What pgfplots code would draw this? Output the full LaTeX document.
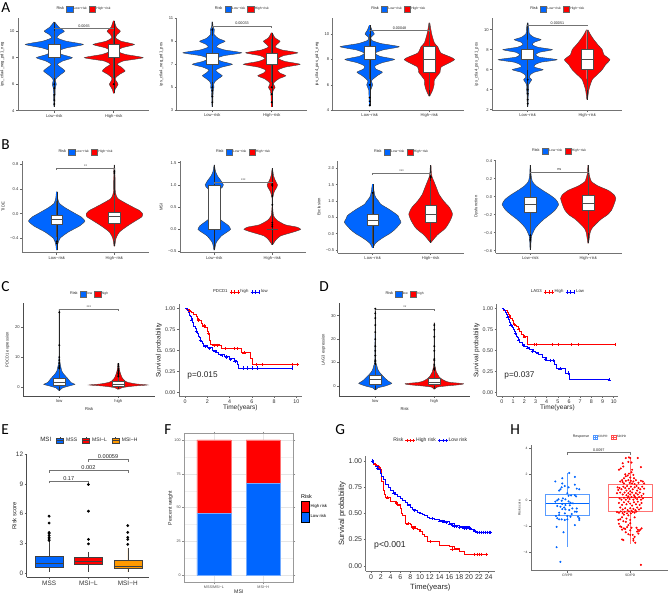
\documentclass[border=0pt]{standalone}
\usepackage{fontspec}
\setmainfont{Liberation Sans}
\newfontfamily\letterfont{Carlito}
\usepackage{pgfplots}
\usepackage{pgfplotstable}
\pgfplotsset{compat=1.18}
\usepgfplotslibrary{statistics}

\definecolor{cb}{HTML}{0066FF}
\definecolor{cr}{HTML}{FF0000}
\definecolor{co}{HTML}{FF9900}
\newcommand{\fs}[1]{\fontsize{#1}{#1}\selectfont}

% violin half widths: y, w (w in 1/178 of a category step)
% panel A
\pgfplotstableread[row sep=\\]{y w\\ 4.3 1\\ 5 2\\ 5.7 3\\ 6 6\\ 6.3 3\\ 6.5 8\\ 6.75 20\\ 7 32\\ 7.3 18\\ 7.5 9\\ 7.75 25\\ 8 54\\ 8.25 22\\ 8.5 10\\ 8.75 38\\ 9 87\\ 9.25 35\\ 9.5 8\\ 9.75 15\\ 10 30\\ 10.3 14\\ 10.7 1\\}\vAaL
\pgfplotstableread[row sep=\\]{y w\\ 5.3 1\\ 5.6 4\\ 6 13\\ 6.3 6\\ 6.5 6\\ 6.75 18\\ 7 34\\ 7.3 22\\ 7.5 10\\ 7.75 28\\ 8 88\\ 8.25 35\\ 8.5 10\\ 8.75 25\\ 9 62\\ 9.25 22\\ 9.5 6\\ 9.75 10\\ 10 20\\ 10.3 8\\ 10.8 1\\}\vAaH
\pgfplotstableread[row sep=\\]{y w\\ 3.3 1\\ 4.3 2\\ 4.8 3\\ 5 5\\ 5.25 4\\ 5.5 8\\ 5.75 18\\ 6 30\\ 6.25 18\\ 6.5 10\\ 6.75 28\\ 7 60\\ 7.25 28\\ 7.5 12\\ 7.75 35\\ 8 88\\ 8.25 36\\ 8.5 12\\ 8.75 20\\ 9 38\\ 9.25 18\\ 9.6 5\\ 10 6\\ 10.3 2\\ 10.7 1\\}\vAbL
\pgfplotstableread[row sep=\\]{y w\\ 3.3 1\\ 4.2 2\\ 4.7 4\\ 5 10\\ 5.3 5\\ 5.5 10\\ 5.75 22\\ 6 42\\ 6.25 24\\ 6.5 18\\ 6.75 40\\ 7 85\\ 7.25 40\\ 7.5 20\\ 7.75 35\\ 8 78\\ 8.25 30\\ 8.5 10\\ 8.75 16\\ 9 25\\ 9.3 10\\ 9.75 1\\}\vAbH
\pgfplotstableread[row sep=\\]{y w\\ 4.3 1\\ 5 2\\ 5.6 3\\ 6 9\\ 6.3 5\\ 6.5 12\\ 6.75 24\\ 7 38\\ 7.25 18\\ 7.5 16\\ 7.75 38\\ 8 74\\ 8.25 30\\ 8.5 16\\ 8.75 40\\ 9 88\\ 9.25 34\\ 9.5 6\\ 9.75 4\\ 10 14\\ 10.3 7\\ 10.7 1\\}\vAcL
\pgfplotstableread[row sep=\\]{y w\\ 5.1 1\\ 5.6 10\\ 6 14\\ 6.4 15\\ 7 32\\ 7.4 35\\ 8 75\\ 8.5 35\\ 9 25\\ 9.3 15\\ 10 7\\ 10.9 1\\}\vAcH
\pgfplotstableread[row sep=\\]{y w\\ 2.3 1\\ 3.5 2\\ 4 3\\ 4.5 3\\ 5 12\\ 5.25 5\\ 5.5 8\\ 5.75 20\\ 6 46\\ 6.25 20\\ 6.5 22\\ 6.75 40\\ 7 88\\ 7.25 35\\ 7.5 24\\ 7.75 36\\ 8 74\\ 8.25 30\\ 8.5 14\\ 8.75 20\\ 9 40\\ 9.25 18\\ 9.6 5\\ 10 4\\ 10.7 1\\}\vAdL
\pgfplotstableread[row sep=\\]{y w\\ 3 1\\ 4 5\\ 5 15\\ 5.5 30\\ 6 45\\ 6.5 55\\ 7 68\\ 7.5 50\\ 8 45\\ 8.5 32\\ 9 20\\ 9.5 10\\ 10 2\\}\vAdH
% panel B
\pgfplotstableread[row sep=\\]{y w\\ -.59 1\\ -.5 3\\ -.4 10\\ -.3 35\\ -.2 70\\ -.12 87\\ -.05 75\\ 0 58\\ .1 25\\ .17 8\\ .25 3\\ .36 1\\}\vBaL
\pgfplotstableread[row sep=\\]{y w\\ -.53 1\\ -.4 5\\ -.3 15\\ -.2 40\\ -.1 70\\ -.05 85\\ 0 87\\ .05 78\\ .1 60\\ .17 35\\ .25 10\\ .35 3\\ .6 2\\ .79 1\\}\vBaH
\pgfplotstableread[row sep=\\]{y w\\ -.47 1\\ -.3 6\\ -.15 22\\ -.05 42\\ 0 50\\ .08 44\\ .2 22\\ .3 7\\ .45 2\\ .62 .5\\ .75 3\\ .85 10\\ .95 25\\ 1 28\\ 1.1 20\\ 1.2 10\\ 1.3 4\\ 1.45 .5\\}\vBbL
\pgfplotstableread[row sep=\\]{y w\\ -.35 1\\ -.25 10\\ -.15 25\\ -.05 70\\ 0 87\\ .05 75\\ .1 40\\ .2 15\\ .3 4\\ .5 1\\ .7 1\\ .85 6\\ .95 14\\ 1 16\\ 1.1 9\\ 1.2 4\\ 1.37 .5\\}\vBbH
\pgfplotstableread[row sep=\\]{y w\\ -.43 1\\ -.3 8\\ -.2 20\\ -.1 35\\ 0 52\\ .1 65\\ .2 75\\ .35 87\\ .45 82\\ .55 78\\ .6 72\\ .75 50\\ .9 25\\ 1 18\\ 1.1 10\\ 1.2 6\\ 1.51 1\\}\vBcL
\pgfplotstableread[row sep=\\]{y w\\ -.27 1\\ -.1 15\\ 0 25\\ .1 38\\ .2 48\\ .4 60\\ .6 67\\ .8 58\\ 1 40\\ 1.2 26\\ 1.4 18\\ 1.6 10\\ 1.75 4\\ 1.9 2\\ 2.1 1\\}\vBcH
\pgfplotstableread[row sep=\\]{y w\\ -.59 1\\ -.45 3\\ -.4 8\\ -.35 15\\ -.3 27\\ -.25 42\\ -.2 60\\ -.15 76\\ -.085 87\\ -.03 78\\ .02 60\\ .07 38\\ .12 18\\ .17 6\\ .25 2\\ .35 1\\}\vBdL
\pgfplotstableread[row sep=\\]{y w\\ -.52 1\\ -.4 6\\ -.35 12\\ -.3 25\\ -.25 40\\ -.2 60\\ -.15 72\\ -.1 78\\ -.05 83\\ -.02 85\\ .02 80\\ .07 62\\ .12 30\\ .17 10\\ .25 3\\ .35 1\\}\vBdH
% panels C, D
\pgfplotstableread[row sep=\\]{y w\\ -1.2 1\\ -.3 10\\ .5 35\\ .9 47\\ 1.5 35\\ 2.5 28\\ 3.5 20\\ 4.5 12\\ 5.5 7\\ 6.5 5\\ 7.5 3\\ 10 1\\ 26 .5\\}\vCaL
\pgfplotstableread[row sep=\\]{y w\\ -.8 1\\ -.2 12\\ .3 45\\ .67 88\\ 1 55\\ 1.5 30\\ 2 20\\ 3 12\\ 4 8\\ 5 5\\ 6 3\\ 7.9 1\\}\vCaH
\pgfplotstableread[row sep=\\]{y w\\ -1.7 1\\ -.8 8\\ 0 30\\ 1.1 50\\ 2 40\\ 3 32\\ 4 25\\ 5 18\\ 6 12\\ 7 8\\ 9 4\\ 11 1.5\\ 33 .5\\}\vDaL
\pgfplotstableread[row sep=\\]{y w\\ -1.4 1\\ -.5 8\\ 0 35\\ .6 80\\ 1 88\\ 1.5 50\\ 2 35\\ 3 22\\ 4 14\\ 5 10\\ 6 6\\ 8 3\\ 10 1\\ 27 .5\\}\vDaH

\pgfplotsset{
  panel/.code args={#1/#2/#3/#4}{%
    \pgfmathsetlengthmacro\pw{(#2-#1)*0.75pt}%
    \pgfmathsetlengthmacro\ph{(#4-#3)*0.75pt}%
    \pgfmathsetlengthmacro\px{#1*0.75pt}%
    \pgfmathsetlengthmacro\py{(595-#4)*0.75pt}%
    \pgfplotsset{width=\pw,height=\ph,at={(\px,\py)}}},
  base/.style={scale only axis,anchor=south west,clip=false,
    axis x line*=bottom,axis y line*=left,
    axis line style={-,black!55,line width=.6pt},
    tick style={black!60,line width=.35pt},
    tick align=outside,major tick length=1.5pt,
    /pgf/number format/assume math mode=true,
    tick label style={text=black!80,inner sep=1pt},
    label style={text=black!85,inner sep=1pt},
    boxplot/draw direction=y,
    boxplot/whisker extend=0,
    boxplot/every median/.style={line width=.7pt},
    legend style={draw=none,fill=none,legend columns=-1,at={(.5,1)},anchor=center,
      inner sep=0pt,outer sep=0pt,
      nodes={inner sep=.6pt,text=black!85},
      /tikz/every even column/.append style={column sep=1pt}}},
  keybox/.style 2 args={legend image code/.code={\draw[##1] (0pt,-#2) rectangle (#1,#2);}},
  boxkey/.style={legend image code/.code={\draw[##1,fill=none] (2.5pt,-2.8pt)--(2.5pt,2.8pt);
    \draw[##1] (0pt,-2pt) rectangle (5pt,2pt);\draw[##1,fill=none] (0pt,0pt)--(5pt,0pt);}},
  kmkey/.style={legend image code/.code={\draw[##1] plot[mark=+,mark size=1.2pt] coordinates {(0pt,0pt)(2.5pt,0pt)(5pt,0pt)};}},
  vaxis/.style={base,xtick={1,2},keybox={4.8pt}{2.3pt},
    tick label style={font=\fs{3.1}},label style={font=\fs{3.1}},ylabel shift=2pt,
    legend style={yshift=6.8pt,font=\fs{2.5}}},
  kmaxis/.style={base,
    tick label style={font=\fs{4}},label style={font=\fs{4.9}},
    ylabel shift=0pt,xlabel shift=-1pt,kmkey,
    ymin=-.044,ymax=1.048,ytick={0,.25,.5,.75,1},yticklabels={0.00,0.25,0.50,0.75,1.00},
    legend style={yshift=9.2pt,font=\fs{3.2}}},
  vio/.style={draw=black!75,line width=.3pt,smooth,tension=.35,forget plot},
  whit/.style={fill=white,draw=black!70,line width=.35pt,forget plot},
  out/.style={only marks,mark=*,mark size=.5pt,black,forget plot},
  brk/.style={black!55,line width=.35pt,forget plot},
  cens/.style={only marks,mark=+,mark size=1.2pt,line width=.25pt,forget plot},
  km/.style={const plot,line width=.65pt,forget plot},
}

\newcommand{\violin}[3]{%
  \addplot[vio,fill=#2] table[x expr=#1+\thisrow{w}/178,y=y]{#3};
  \addplot[vio,fill=#2] table[x expr=#1-\thisrow{w}/178,y=y]{#3};
  \addplot[#2,line width=.9pt,forget plot] table[x expr=#1,y=y]{#3};
  \addplot[black!85,line width=.25pt,forget plot] table[x expr=#1,y=y]{#3};}
% pos, lower whisker, q1, median, q3, upper whisker
\newcommand{\boxp}[6]{%
  \addplot[whit,boxplot prepared={draw position=#1,lower whisker=#2,lower quartile=#3,median=#4,upper quartile=#5,upper whisker=#6,box extend=.2}] coordinates {};}
\newcommand{\sig}[5]{%
  \addplot[brk] coordinates {(#1,#3-#4) (#1,#3) (#2,#3) (#2,#3-#4)};
  \pgfmathsetmacro\midx{(#1+#2)/2}
  \node[anchor=south,inner sep=.6pt,font=\fs{2.8},text=black!85] at (axis cs:\midx,#3) {#5};}
\newcommand{\rleg}[2]{%
  \addlegendimage{empty legend}\addlegendentry{\fs{2.9}Risk}
  \addlegendimage{fill=cb,draw=black!60,line width=.2pt}\addlegendentry{#1}
  \addlegendimage{fill=cr,draw=black!60,line width=.2pt}\addlegendentry{#2}}
\newcommand{\kmleg}[3]{%
  \addlegendimage{empty legend}\addlegendentry{#1}
  \addlegendimage{cr,line width=.45pt}\addlegendentry{#2}
  \addlegendimage{blue,line width=.45pt}\addlegendentry{#3}}
\newcommand{\plabel}[3]{\node[anchor=west,inner sep=0pt,font=\letterfont\fs{11.5}] at ({#1*.75pt},{(595-#2)*.75pt}) {#3};}

\begin{document}
\begin{tikzpicture}
\path[use as bounding box,fill=white] (0,0) rectangle (501.75pt,446.25pt);

\plabel{1}{8}{A}\plabel{1}{145}{B}\plabel{1}{287}{C}\plabel{319}{287}{D}
\plabel{1}{430}{E}\plabel{164}{430}{F}\plabel{335}{430}{G}\plabel{510}{430}{H}

% ---- row A
\begin{axis}[vaxis,panel=18/149/18/110.7,xmin=.389,xmax=2.594,ymin=4,ymax=11,
  xticklabels={Low−risk,High−risk},ytick={4,6,8,10},ylabel={ips\_ctla4\_neg\_pd1\_neg}]
\rleg{Low−risk}{High−risk}
\violin{1}{cb}{\vAaL}\violin{2}{cr}{\vAaH}
\boxp{1}{6.5}{8}{8}{9}{10}\boxp{2}{6.5}{8}{8}{9}{10}
\addplot[out] coordinates {(1,6) (1,5.7) (1,5.2) (1,4.8) (1,4.5) (2,6)};
\sig{1}{2}{10.22}{.08}{0.0065}
\end{axis}
\begin{axis}[vaxis,panel=176.7/307/18.3/110.3,xmin=.4,xmax=2.594,ymin=3,ymax=11,
  xticklabels={Low−risk,High−risk},ytick={3,5,7,9,11},ylabel={ips\_ctla4\_neg\_pd1\_pos}]
\rleg{Low−risk}{High−risk}
\violin{1}{cb}{\vAbL}\violin{2}{cr}{\vAbH}
\boxp{1}{5.5}{7}{7}{8}{9.5}\boxp{2}{5.5}{7}{7}{8}{9.2}
\addplot[out] coordinates {(1,10) (1,5) (1,4.7) (1,4.2) (1,3.7) (2,5) (2,4.4) (2,3.7)};
\sig{1}{2}{10.33}{.15}{0.00033}
\end{axis}
\begin{axis}[vaxis,panel=332.7/464/18/110.3,xmin=.38,xmax=2.58,ymin=4,ymax=11.26,
  xticklabels={Low−risk,High−risk},ytick={4,6,8,10},ylabel={ips\_ctla4\_pos\_pd1\_neg}]
\rleg{Low−risk}{High−risk}
\violin{1}{cb}{\vAcL}\violin{2}{cr}{\vAcH}
\boxp{1}{6.5}{8}{8}{9}{10}\boxp{2}{5.6}{7}{8}{9}{10.9}
\addplot[out] coordinates {(1,6) (1,5) (1,4.7) (1,4.4)};
\sig{1}{2}{10.28}{.1}{0.00048}
\end{axis}
\begin{axis}[vaxis,panel=492.3/622.3/18.3/110.3,xmin=.406,xmax=2.59,ymin=1.94,ymax=11.14,
  xticklabels={Low−risk,High−risk},ytick={2,4,6,8,10},ylabel={ips\_ctla4\_pos\_pd1\_pos}]
\rleg{Low−risk}{High−risk}
\violin{1}{cb}{\vAdL}\violin{2}{cr}{\vAdH}
\boxp{1}{6}{7}{7}{8}{9}\boxp{2}{4}{6}{7}{8}{10}
\addplot[out] coordinates {(1,5) (1,4) (1,3.6) (1,3) (1,2.6)};
\sig{1}{2}{10.43}{.1}{0.00051}
\end{axis}

% ---- row B
\begin{axis}[vaxis,panel=22/149/161/252.7,xmin=.398,xmax=2.6,ymin=-.632,ymax=.855,
  xticklabels={Low−risk,High−risk},ytick={-.4,0,.4,.8},yticklabels={−0.4,0.0,0.4,0.8},ylabel={TIDE}]
\rleg{Low−risk}{High−risk}
\violin{1}{cb}{\vBaL}\violin{2}{cr}{\vBaH}
\boxp{1}{-.37}{-.17}{-.1}{-.02}{.2}\boxp{2}{-.45}{-.15}{-.04}{.03}{.3}
\addplot[out] coordinates {(1,-.45) (1,-.48) (2,.66) (2,.69)};
\sig{1}{2}{.73}{.02}{**}
\end{axis}
\begin{axis}[vaxis,panel=180/306/161/252.7,xmin=.41,xmax=2.58,ymin=-.527,ymax=1.538,
  xticklabels={Low−risk,High−risk},ytick={-.5,0,.5,1,1.5},yticklabels={−0.5,0.0,0.5,1.0,1.5},ylabel={MSI}]
\rleg{Low−risk}{High−risk}
\violin{1}{cb}{\vBbL}\violin{2}{cr}{\vBbH}
\boxp{1}{0}{0}{0}{1}{1}\boxp{2}{0}{0}{0}{0}{.01}
\addplot[out] coordinates {(2,.06) (2,.1) (2,.15) (2,.55) (2,.75) (2,1) (2,.98) (2,1.02)};
\sig{1}{2}{1.06}{.03}{***}
\end{axis}
\begin{axis}[vaxis,panel=337.7/464.3/161/253,xmin=.397,xmax=2.58,ymin=-.59,ymax=2.225,
  xticklabels={Low−risk,High−risk},ytick={-.5,0,.5,1,1.5,2},yticklabels={−0.5,0.0,0.5,1.0,1.5,2.0},ylabel={Exclusion}]
\rleg{Low−risk}{High−risk}
\violin{1}{cb}{\vBcL}\violin{2}{cr}{\vBcH}
\boxp{1}{-.3}{.25}{.41}{.6}{1.2}\boxp{2}{-.2}{.35}{.6}{.86}{1.6}
\addplot[out] coordinates {(1,1.25) (2,1.75) (2,1.72)};
\sig{1}{2}{1.85}{.05}{***}
\end{axis}
\begin{axis}[vaxis,panel=495.7/622.3/160/253,xmin=.4,xmax=2.59,ymin=-.626,ymax=.408,
  xticklabels={Low−risk,High−risk},ytick={-.6,-.4,-.2,0,.2,.4},yticklabels={−0.6,−0.4,−0.2,0.0,0.2,0.4},ylabel={Dysfunction}]
\rleg{Low−risk}{High−risk}
\violin{1}{cb}{\vBdL}\violin{2}{cr}{\vBdH}
\boxp{1}{-.41}{-.17}{-.09}{-.01}{.2}\boxp{2}{-.4}{-.15}{-.07}{.015}{.25}
\addplot[out] coordinates {(1,-.43) (1,-.46) (1,-.48)};
\sig{1}{2}{.274}{.01}{ns}
\end{axis}

% ---- row C, D violins
\begin{axis}[vaxis,panel=23.3/155/303.3/396,xmin=.39,xmax=2.62,ymin=-3.02,ymax=28.04,
  axis line style={black!70},
  xticklabels={low,high},ytick={0,10,20},ylabel={PDCD1 expression},xlabel={Risk},xlabel shift=1pt]
\rleg{low}{high}
\violin{1}{cb}{\vCaL}\violin{2}{cr}{\vCaH}
\boxp{1}{0}{.45}{1.45}{2.9}{6}\boxp{2}{0}{.35}{1}{1.8}{3.4}
\addplot[out] coordinates {(1,6.5) (1,7) (1,8) (1,9) (1,10) (1,14) (1,25) (1,6.2) (2,3.5) (2,4) (2,4.5) (2,5) (2,5.5) (2,6) (2,7) (2,7.7)};
\sig{1}{2}{26.1}{.5}{***}
\end{axis}
\begin{axis}[vaxis,panel=339.3/470/303.3/396,xmin=.39,xmax=2.605,ymin=-4.27,ymax=35.3,
  axis line style={black!70},
  xticklabels={low,high},ytick={0,10,20,30},ylabel={LAG3 expression},xlabel={Risk},xlabel shift=1pt]
\rleg{low}{high}
\violin{1}{cb}{\vDaL}\violin{2}{cr}{\vDaH}
\boxp{1}{0}{.9}{2.7}{4.4}{9}\boxp{2}{0}{.7}{1.7}{3.1}{6.5}
\addplot[out] coordinates {(1,9.5) (1,10.5) (1,11) (1,13) (1,15) (1,17) (1,20) (1,23) (1,26) (1,29) (1,31) (1,33)
  (2,7) (2,7.5) (2,9) (2,11) (2,11.5) (2,15) (2,17) (2,21) (2,24) (2,26)};
\sig{1}{2}{32.6}{.6}{**}
\end{axis}

% ---- KM PDCD1
\begin{axis}[kmaxis,panel=179/301.7/304.3/396,xmin=-.54,xmax=10.49,
  xtick={0,2,4,6,8,10},xlabel={Time(years)},ylabel={Survival probability}]
\kmleg{PDCD1}{high}{low}
\addplot[km,cr] coordinates {(0,1) (.15,.99) (.3,.98) (.45,.96) (.6,.95) (.8,.93) (1,.9) (1.15,.87) (1.3,.85) (1.45,.82) (1.6,.8) (1.8,.77) (2,.73) (2.1,.7) (2.2,.62) (2.3,.57) (3.1,.56) (3.3,.52) (4.9,.52) (5.1,.47) (5.8,.47) (5.85,.40) (6.05,.33) (10.2,.33)};
\addplot[cens,cr] coordinates {(.4,.97) (1.2,.86) (1.7,.79) (2.1,.7) (2.6,.56) (2.9,.56) (3.6,.52) (4.4,.52) (4.7,.52) (5.3,.47) (6.4,.33) (6.9,.33) (9.6,.33) (10.1,.33)};
\addplot[km,blue] coordinates {(0,1) (.2,.97) (.3,.95) (.4,.92) (.5,.9) (.6,.86) (.7,.83) (.8,.79) (.9,.76) (1,.73) (1.1,.7) (1.2,.67) (1.3,.65) (1.4,.62) (1.5,.6) (1.6,.58) (1.7,.56) (2,.53) (2.5,.5) (2.8,.47) (3,.45) (3.5,.43) (4,.4) (4.4,.38) (4.6,.37) (4.7,.33) (4.8,.29) (9.7,.29)};
\addplot[cens,blue] coordinates {(.6,.86) (1,.73) (1.4,.62) (1.8,.55) (2.2,.52) (2.7,.49) (3.3,.44) (3.7,.42) (4.1,.39) (4.5,.37) (5.2,.29) (5.6,.29) (6,.29) (6.5,.29) (9.6,.29)};
\node[font=\fs{6.2},anchor=west,text=black!85,inner sep=0pt] at (axis cs:.2,.195) {p=0.015};
\end{axis}

% ---- KM LAG3
\begin{axis}[kmaxis,panel=496.7/618.3/304.3/396,xmin=-.47,xmax=10.41,
  xtick={0,1,...,10},xlabel={Time(years)},ylabel={Survival probability}]
\kmleg{LAG3}{High}{Low}
\addplot[km,cr] coordinates {(0,1) (.15,.98) (.3,.97) (.45,.95) (.6,.93) (.7,.9) (.8,.88) (.9,.85) (1,.82) (1.15,.8) (1.3,.78) (1.45,.75) (1.6,.72) (1.75,.69) (1.9,.66) (2.2,.66) (2.25,.57) (10.2,.57)};
\addplot[cens,cr] coordinates {(.7,.9) (1.1,.81) (1.5,.75) (2,.66) (2.9,.57) (3.1,.57) (4.5,.57) (5.05,.57) (6.2,.57) (6.85,.57) (10.1,.57)};
\addplot[km,blue] coordinates {(0,1) (.1,.99) (.2,.97) (.3,.95) (.4,.93) (.5,.9) (.6,.87) (.7,.83) (.8,.8) (.9,.77) (1,.75) (1.1,.72) (1.2,.7) (1.3,.67) (1.4,.65) (1.5,.62) (1.6,.59) (1.8,.57) (2,.55) (2.25,.53) (2.5,.51) (2.8,.49) (3,.48) (3.3,.45) (3.6,.42) (4,.38) (4.6,.38) (4.7,.33) (4.9,.28) (5.6,.28) (5.7,.23) (6,.23) (6.05,.15) (9.7,.15)};
\addplot[cens,blue] coordinates {(.5,.9) (.8,.8) (1.2,.7) (1.5,.62) (1.9,.56) (2.3,.53) (2.7,.49) (3.2,.46) (3.9,.39) (4.3,.38) (4.55,.38) (5.2,.28) (5.9,.23) (9.6,.15)};
\node[font=\fs{6.2},anchor=west,text=black!85,inner sep=0pt] at (axis cs:.2,.195) {p=0.037};
\end{axis}

% ---- E
\begin{axis}[base,panel=26.7/149/454.3/577.3,xmin=.43,xmax=3.54,ymin=-.43,ymax=12,
  xtick={1,2,3},xticklabels={MSS,MSI−L,MSI−H},ytick={0,3,6,9,12},ylabel={Risk score},
  tick label style={font=\fs{4.8}},label style={font=\fs{4.4}},
  axis line style={black!70},boxkey,ylabel shift=-2.5pt,
  legend style={at={(.5,1)},yshift=10.4pt,font=\fs{3.8},
    /tikz/every even column/.append style={column sep=3.2pt},
    /tikz/every odd column/.append style={column sep=1.6pt}}]
\addlegendimage{empty legend}\addlegendentry{\fs{4.6}MSI}
\addlegendimage{fill=cb,draw=black!75,line width=.2pt}\addlegendentry{MSS}
\addlegendimage{fill=cr,draw=black!75,line width=.2pt}\addlegendentry{MSI−L}
\addlegendimage{fill=co,draw=black!75,line width=.2pt}\addlegendentry{MSI−H}
\addplot[forget plot,fill=cb,draw=black!75,line width=.3pt,boxplot prepared={draw position=1,lower whisker=.15,lower quartile=.64,median=1,upper quartile=1.72,upper whisker=3.2,box extend=.71}] coordinates {};
\addplot[forget plot,fill=cr,draw=black!75,line width=.3pt,boxplot prepared={draw position=2,lower whisker=.15,lower quartile=.9,median=1.18,upper quartile=1.58,upper whisker=2.15,box extend=.71}] coordinates {};
\addplot[forget plot,fill=co,draw=black!75,line width=.3pt,boxplot prepared={draw position=3,lower whisker=.1,lower quartile=.44,median=.67,upper quartile=1.28,upper whisker=2.5,box extend=.71}] coordinates {};
\addplot[out,mark size=.85pt] coordinates {(1,3.3) (1,3.45) (1,3.6) (1,3.8) (1,4) (1,4.1) (1,5.05) (1,5.75) (2,2.95) (2,3.4) (2,6.25) (2,8.95) (3,2.9) (3,3.4) (3,3.6) (3,4.1) (3,4.8)};
\addplot[brk] coordinates {(1,9.05) (1,9.3) (2,9.3) (2,9.05)};
\addplot[brk] coordinates {(1,10.15) (1,10.4) (3,10.4) (3,10.15)};
\addplot[brk] coordinates {(2,11.25) (2,11.5) (3,11.5) (3,11.25)};
\node[font=\fs{4.2},text=black!85,anchor=south,inner sep=.5pt] at (axis cs:1.5,9.3) {0.17};
\node[font=\fs{4.2},text=black!85,anchor=south,inner sep=.5pt] at (axis cs:2,10.4) {0.002};
\node[font=\fs{4.2},text=black!85,anchor=south,inner sep=.5pt] at (axis cs:2.5,11.5) {0.00059};
\end{axis}

% ---- F
\begin{axis}[scale only axis,anchor=south west,panel=184.3/293.3/433.7/582.3,clip=false,
  ybar stacked,bar width=25.5pt,xmin=.398,xmax=2.61,ymin=-5.17,ymax=104.66,
  xtick={1,2},xticklabels={MSS/MSI−L,MSI−H},ytick={0,25,50,75,100},
  minor y tick num=1,ymajorgrids,yminorgrids,xmajorgrids,
  major grid style={black!10,line width=.3pt},minor grid style={black!6,line width=.25pt},
  axis line style={black!40,line width=.7pt},
  tick style={black!45,line width=.3pt},tick align=outside,major tick length=1.5pt,
  minor tick length=0pt,
  /pgf/number format/assume math mode=true,
  tick label style={font=\fs{2.8},text=black!70,inner sep=1pt},
  label style={font=\fs{3.9},text=black!85,inner sep=1pt},
  xlabel={MSI},ylabel={Percent weight},ylabel shift=-1pt,xlabel shift=-1pt,
  keybox={6.2pt}{3.9pt},
  legend style={draw=none,fill=none,at={(1.065,.5)},anchor=west,font=\fs{3.2},
    inner sep=0pt,nodes={inner sep=.8pt},row sep=-.3pt,cells={anchor=west}}]
\addlegendimage{empty legend}\addlegendentry{\hspace{-7pt}\fs{4.1}Risk}
\addlegendimage{fill=cr,draw=none}\addlegendentry{High risk}
\addlegendimage{fill=cb,draw=none}\addlegendentry{Low risk}
\addplot[forget plot,fill=cb,draw=cb!55,line width=.3pt] coordinates {(1,46) (2,68)};
\addplot[forget plot,fill=cr,draw=cr!55,line width=.3pt] coordinates {(1,54) (2,32)};
\node[font=\fs{2.8},text=black!85] at (axis cs:1,22.9) {46\%};
\node[font=\fs{2.8},text=black!85] at (axis cs:1,72.9) {54\%};
\node[font=\fs{2.8},text=black!85] at (axis cs:2,34) {68\%};
\node[font=\fs{2.8},text=black!85] at (axis cs:2,84) {32\%};
\end{axis}

% ---- G
\begin{axis}[kmaxis,panel=365.7/495/456/571,xmin=-1.08,xmax=25.29,ymin=-.05,
  xtick={0,2,...,24},xlabel={Time(years)},ylabel={Survival probability},xlabel shift=1pt,
  tick label style={font=\fs{5.2}},label style={font=\fs{5.7}},
  legend style={yshift=2.3pt,font=\fs{3.8}}]
\kmleg{\fs{3.8}Risk}{High risk}{Low risk}
\addplot[km,cr,line width=.8pt] coordinates {(.2,1) (.6,.98) (1,.96) (1.5,.94) (2,.92) (2.1,.85) (2.2,.8) (2.5,.72) (2.8,.68) (3,.65) (3.8,.65) (4,.61) (5,.6) (5.5,.58) (6,.55) (6.3,.5) (6.5,.48) (7,.4) (8,.39) (8.3,.37) (9,.36) (9.5,.35) (10,.33) (10.5,.3) (11,.28) (11.5,.23) (13,.23) (14,.19) (16,.18) (17,.16) (18,.14) (19,.11) (23.5,.11)};
\addplot[cens,cr] coordinates {(.8,.97) (1.6,.94) (3.3,.65) (5.2,.6) (7.5,.4) (8.7,.36) (12,.23) (16.5,.16) (21,.11) (21.6,.11) (22,.11) (22.5,.11) (23.5,.11)};
\addplot[km,blue,line width=.8pt] coordinates {(.2,1) (.6,.97) (1,.95) (1.5,.92) (2,.88) (2.2,.85) (2.5,.82) (3,.78) (3.5,.75) (4,.72) (4.5,.7) (5,.68) (5.5,.66) (6,.64) (6.5,.62) (7,.6) (7.5,.58) (8,.56) (8.5,.54) (9,.53) (9.5,.51) (10,.5) (10.5,.49) (11,.48) (11.5,.46) (12,.45) (13,.44) (14,.43) (15,.42) (16,.4) (17,.38) (18,.37) (20,.36) (20.5,.35) (21,.33) (21.5,.32) (24.5,.32)};
\addplot[cens,blue] coordinates {(.3,1) (1.3,.93) (4.7,.69) (8.8,.53) (12.5,.45) (14,.43) (14.5,.425) (15,.42) (15.3,.415) (16,.4) (16.3,.395) (16.6,.39) (17,.38) (17.4,.375) (18,.37) (18.5,.365) (19,.36) (19.5,.36) (20,.36) (20.3,.355) (21.2,.33) (21.6,.32) (22,.32) (22.4,.32) (22.8,.32) (23.2,.32) (23.6,.32) (24,.32) (24.4,.32)};
\node[font=\fs{6.5},anchor=west,text=black!85,inner sep=0pt] at (axis cs:.6,.19) {p<0.001};
\end{axis}

% ---- H
\begin{axis}[base,panel=531/668/445/570.7,xmin=.423,xmax=2.6,ymin=-5.4,ymax=4.25,
  xtick={1,2},xticklabels={CR/PR,SD/PD},ytick={-4,-2,0,2,4},yticklabels={−4,−2,0,2,4},ylabel={Risk score},
  tick label style={font=\fs{2.5}},label style={font=\fs{2.5}},
  legend image code/.code={\draw[#1] (.8pt,-1.4pt) rectangle (4.2pt,1.4pt);\draw[#1] (.8pt,0pt)--(4.2pt,0pt);\draw[#1] (2.5pt,-2pt)--(2.5pt,2pt);},
  legend style={yshift=5.8pt,font=\fs{2.3},
    /tikz/every even column/.append style={column sep=2pt}}]
\addlegendimage{empty legend}\addlegendentry{\fs{2.7}Response}
\addlegendimage{cb!70,line width=.2pt}\addlegendentry{CR/PR}
\addlegendimage{cr!70,line width=.2pt}\addlegendentry{SD/PD}
\addplot[forget plot,cb!65,line width=.5pt,boxplot/every median/.style={cb,line width=.7pt},boxplot prepared={draw position=1,lower whisker=-3.55,lower quartile=-1.15,median=-.22,upper quartile=.45,upper whisker=2.1,box extend=.69}] coordinates {};
\addplot[forget plot,cr!55,line width=.5pt,boxplot/every median/.style={cr!80,line width=.7pt},boxplot prepared={draw position=2,lower whisker=-3.35,lower quartile=-.88,median=.22,upper quartile=1.22,upper whisker=3.3,box extend=.69}] coordinates {};
\addplot[only marks,mark=*,mark size=.55pt,cb,forget plot] coordinates {
(1.03,2.1) (1.12,1.8) (.92,1.7) (.81,1.45) (.92,1.3) (.96,1.1) (1.02,1.0) (1.12,1.2) (1.15,.9) (1.19,.85) (.89,.85) (.87,.75) (.91,1.0) (1.0,.55) (1.02,.35) (1.12,.4) (1.14,.3) (.93,.15) (.84,0) (.81,-.1) (.86,.08) (.91,-.03) (.97,.08) (1.02,-.08) (.92,-.28) (1.05,-.18) (1.09,-.23) (.97,-.36) (.84,-.43) (.89,-.49) (1.04,-.38) (1.08,-.62) (1.15,-.62) (1.03,-.74) (1.12,-.87) (1.15,-.87) (.87,-.95) (.97,-.69) (.92,-.67) (.87,-1.13) (.96,-1.0) (1.0,-1.2) (1.05,-1.26) (1.07,-1.05) (1.19,-1.38) (1.19,-1.51) (.84,-1.38) (.87,-1.46) (.91,-1.46) (.96,-1.51) (1.0,-1.46) (1.12,-1.9) (.83,-2.03) (.94,-2.45) (.83,-3.6) (.89,-4.72) (1.17,-1.26) (.82,-1.2) (1.06,.38) (.95,-.55)};
\addplot[only marks,mark=*,mark size=.55pt,cr,forget plot] coordinates {
(1.93,3.25) (1.98,3.3) (2.0,3.25) (2.12,3.25) (1.88,2.85) (1.97,2.95) (2.02,2.9) (1.85,2.45) (1.82,2.35) (1.89,2.6) (2.17,2.55) (2.03,2.35)
(1.92,2.0) (1.93,1.85) (1.96,1.9) (1.98,2.05) (2.02,2.15) (2.05,1.95) (2.0,1.75) (1.9,1.7) (1.87,1.55) (2.06,1.7)
(1.84,1.45) (1.88,1.4) (1.93,1.5) (1.97,1.55) (2.01,1.5) (2.05,1.45) (2.09,1.55) (2.13,1.35) (2.17,1.5) (2.2,1.45) (2.22,1.3) (1.99,1.35) (2.03,1.3) (2.07,1.25) (1.9,1.3)
(1.8,1.0) (1.83,.95) (1.86,.85) (1.89,1.05) (1.92,.95) (1.95,1.1) (1.98,.9) (2.01,1.05) (2.04,.85) (2.07,1.0) (2.1,1.1) (2.13,.95) (2.16,.85) (2.19,1.05) (2.22,.9) (1.81,.8) (1.94,.75) (2.0,.7) (2.11,.75)
(1.79,.55) (1.84,.6) (1.88,.45) (1.91,.6) (1.94,.4) (1.97,.55) (2.0,.45) (2.03,.6) (2.06,.4) (2.09,.55) (2.12,.45) (2.15,.6) (2.18,.35) (2.21,.5)
(1.83,.15) (1.86,.05) (1.9,.2) (1.93,.05) (1.96,.2) (1.99,.1) (2.02,.25) (2.05,.05) (2.08,.2) (2.11,.1) (2.14,.25) (2.17,.05) (2.2,.15) (1.97,.3) (2.07,.3)
(1.82,-.2) (1.87,-.35) (1.9,-.15) (1.94,-.3) (1.97,-.1) (2.0,-.25) (2.03,-.4) (2.06,-.15) (2.09,-.3) (2.12,-.1) (2.15,-.35) (2.18,-.2)
(1.84,-.55) (1.88,-.7) (1.92,-.6) (1.96,-.75) (2.0,-.6) (2.02,-.8) (2.05,-.65) (2.08,-.75) (2.11,-.55) (2.14,-.7) (2.17,-.6)
(1.79,-.9) (1.82,-.95) (1.85,-.85) (1.88,-.98) (1.91,-.88) (1.95,-1) (1.98,-.85) (2.01,-1.0) (2.04,-.9) (2.07,-.95) (2.1,-.85) (1.9,-1.1) (1.97,-1.15)
(1.81,-1.5) (1.84,-1.45) (1.87,-1.3) (1.94,-1.4) (2.0,-1.5) (2.07,-1.3) (1.89,-1.6) (1.93,-1.65)
(1.82,-1.8) (1.84,-2.0) (1.86,-2.05) (1.9,-2.15) (1.92,-2.2) (1.95,-2.05) (1.97,-1.9) (2.0,-2.3) (1.93,-2.45) (2.02,-2.1) (2.0,-1.75) (1.87,-2.25)
(2.1,-2.1) (2.12,-2.25) (2.14,-2.35) (2.16,-2.25) (2.18,-2.15) (2.11,-2.4) (2.13,-2.55)
(1.87,-3.0) (1.89,-3.05) (2.04,-2.65) (2.07,-2.8) (2.05,-2.95) (2.08,-3.25) (1.97,-2.6) (2.0,-2.65) (2.05,-3.1) (2.17,-4.95)};
\sig{1}{2}{3.67}{.18}{0.0097}
\end{axis}
\end{tikzpicture}
\end{document}
